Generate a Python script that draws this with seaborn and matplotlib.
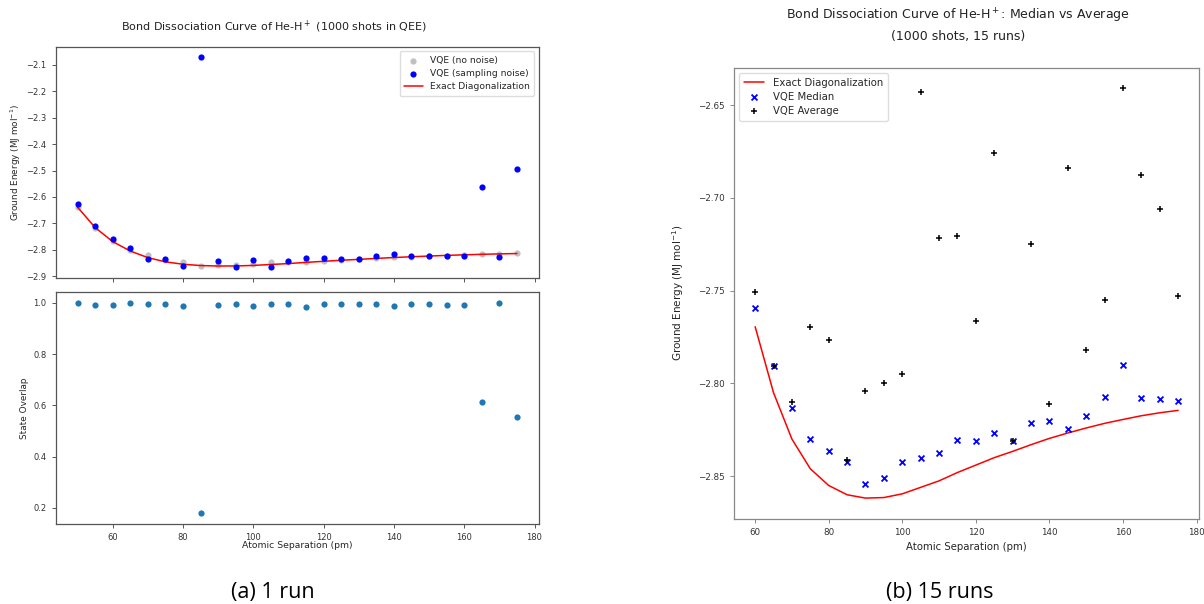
import numpy as np
import pandas as pd
import seaborn as sns
import matplotlib
matplotlib.use("Agg")
import matplotlib.pyplot as plt

# ---------------- data ----------------
# (a) single run, 50..175 pm
sep_a = [50, 55, 60, 65, 70, 75, 80, 85, 90, 95, 100, 105, 110, 115, 120,
         125, 130, 135, 140, 145, 150, 155, 160, 165, 170, 175]
exact_a = [-2.639, -2.716, -2.7694, -2.805, -2.830, -2.846, -2.855, -2.860,
           -2.8618, -2.8615, -2.8595, -2.856, -2.8525, -2.848, -2.844, -2.840,
           -2.8366, -2.833, -2.8296, -2.8267, -2.824, -2.8215, -2.8194,
           -2.8174, -2.8158, -2.8145]
vqe_clean = [-2.637, -2.719, -2.766, -2.801, -2.821, -2.838, -2.846, -2.861,
             -2.858, -2.857, -2.853, -2.848, -2.846, -2.848, -2.843, -2.840,
             -2.836, -2.831, -2.828, -2.826, -2.823, -2.822, -2.820, -2.818,
             -2.816, -2.814]
vqe_noisy = [-2.625, -2.709, -2.758, -2.794, -2.835, -2.837, -2.861, -2.071,
             -2.841, -2.867, -2.839, -2.867, -2.843, -2.832, -2.832, -2.835,
             -2.835, -2.825, -2.818, -2.822, -2.822, -2.824, -2.822, -2.563,
             -2.828, -2.496]
overlap = [1.000, 0.992, 0.992, 1.000, 0.996, 0.996, 0.988, 0.179, 0.992,
           0.996, 0.988, 0.996, 0.996, 0.984, 0.996, 0.996, 0.996, 0.996,
           0.988, 0.996, 0.996, 0.992, 0.992, 0.614, 1.000, 0.553]

# (b) 15 runs, 60..175 pm
sep_b = sep_a[2:]
exact_b = exact_a[2:]
vqe_median = [-2.7593, -2.7905, -2.8133, -2.8297, -2.8364, -2.8425, -2.8541,
              -2.8509, -2.8425, -2.8403, -2.8375, -2.8303, -2.8308, -2.8269,
              -2.8308, -2.8213, -2.8201, -2.8246, -2.8174, -2.8074, -2.7900,
              -2.8079, -2.8084, -2.8095]
vqe_average = [-2.7505, -2.7905, -2.8102, -2.7695, -2.7763, -2.8410, -2.8043,
               -2.7997, -2.7948, -2.6430, -2.7213, -2.7207, -2.7661, -2.6760,
               -2.8308, -2.7249, -2.8109, -2.6838, -2.7819, -2.7550, -2.6408,
               -2.6877, -2.7057, -2.7527]

energy_label = r"Ground Energy (MJ mol$^{-1}$)"
sep_label = "Atomic Separation (pm)"

# ---------------- style ----------------
sns.set_theme(style="ticks")
plt.rcParams["font.family"] = ["DejaVu Sans"]
plt.rcParams.update({
    "xtick.major.size": 3, "ytick.major.size": 3,
    "xtick.major.width": 0.7, "ytick.major.width": 0.7,
    "axes.linewidth": 0.9,
})

W, H = 1204, 604
fig = plt.figure(figsize=(W / 100, H / 100), dpi=100)


def px_axes(x0, y0, x1, y1):
    return fig.add_axes([x0 / W, 1 - y1 / H, (x1 - x0) / W, (y1 - y0) / H])


def style_axes(ax, color, tick_fs):
    for sp in ax.spines.values():
        sp.set_color(color)
        sp.set_visible(True)
    ax.tick_params(colors="#333333", labelsize=tick_fs, color=color)


ax_top = px_axes(55.6, 46.8, 538.9, 277.9)
ax_bot = px_axes(55.6, 292.2, 538.9, 523.9)
ax_r = px_axes(734.0, 67.7, 1199.3, 518.6)

# ---- (a) top: energies ----
df_a = pd.DataFrame({"sep": sep_a, "exact": exact_a, "clean": vqe_clean,
                     "noisy": vqe_noisy, "overlap": overlap})
sns.scatterplot(data=df_a, x="sep", y="clean", ax=ax_top, color="#c0c0c0",
                s=20, linewidth=0, label="VQE (no noise)", zorder=2)
sns.lineplot(data=df_a, x="sep", y="exact", ax=ax_top, color="red",
             linewidth=1.1, label="Exact Diagonalization", zorder=3)
sns.scatterplot(data=df_a, x="sep", y="noisy", ax=ax_top, color="blue",
                s=20, linewidth=0, label="VQE (sampling noise)", zorder=4)
h, l = ax_top.get_legend_handles_labels()
order = ["VQE (no noise)", "VQE (sampling noise)", "Exact Diagonalization"]
hd = dict(zip(l, h))
ax_top.legend([hd[k] for k in order], order, loc="upper right",
              fontsize=6.6, frameon=True, handlelength=2.0, borderpad=0.5,
              labelspacing=0.45, framealpha=1, edgecolor="#dddddd")
ax_top.set_yticks([-2.1, -2.2, -2.3, -2.4, -2.5, -2.6, -2.7, -2.8, -2.9])
ax_top.set_xticks([60, 80, 100, 120, 140, 160, 180])
ax_top.tick_params(axis="x", labelbottom=False)
ax_top.set_xlabel("")
ax_top.set_ylabel(energy_label, fontsize=6.4)
ax_top.yaxis.set_label_coords(-0.068, 0.5)
style_axes(ax_top, "#555555", 6.0)

# ---- (a) bottom: state overlap ----
sns.scatterplot(data=df_a, x="sep", y="overlap", ax=ax_bot, color="#1f77b4",
                s=20, linewidth=0)
ax_bot.set_yticks([0.2, 0.4, 0.6, 0.8, 1.0])
ax_bot.set_xticks([60, 80, 100, 120, 140, 160, 180])
ax_bot.set_xlabel(sep_label, fontsize=6.7)
ax_bot.set_ylabel("State Overlap", fontsize=6.4)
ax_bot.yaxis.set_label_coords(-0.055, 0.5)
ax_bot.xaxis.set_label_coords(0.5, -0.0738)
ax_bot.set_xlim(ax_top.get_xlim())
style_axes(ax_bot, "#555555", 6.0)

fig.text(274 / W, 1 - 26.7 / H,
         "Bond Dissociation Curve of He-H$^+$ (1000 shots in QEE)",
         ha="center", va="center", fontsize=8.0, color="#222222")

# ---- (b) median vs average ----
df_b = pd.DataFrame({"sep": sep_b, "exact": exact_b, "median": vqe_median,
                     "average": vqe_average})
sns.lineplot(data=df_b, x="sep", y="exact", ax=ax_r, color="red",
             linewidth=1.1, label="Exact Diagonalization", zorder=2)
sns.scatterplot(data=df_b, x="sep", y="median", ax=ax_r, color="blue",
                marker="x", s=18, linewidth=1.3, label="VQE Median", zorder=3)
sns.scatterplot(data=df_b, x="sep", y="average", ax=ax_r, color="black",
                marker="+", s=20, linewidth=1.1, label="VQE Average", zorder=4)
ax_r.legend(loc="upper left", fontsize=7.3, frameon=True, handlelength=2.0,
            borderpad=0.5, labelspacing=0.4, framealpha=1,
            edgecolor="#dddddd")
ax_r.set_yticks([-2.65, -2.70, -2.75, -2.80, -2.85])
ax_r.set_yticklabels(["−2.65", "−2.70", "−2.75", "−2.80", "−2.85"])
ax_r.set_xticks([60, 80, 100, 120, 140, 160, 180])
ax_r.set_xlabel(sep_label, fontsize=7.3)
ax_r.set_ylabel(energy_label, fontsize=7.5)
ax_r.yaxis.set_label_coords(-0.1032, 0.5)
ax_r.xaxis.set_label_coords(0.5, -0.0508)
style_axes(ax_r, "#888888", 6.3)

fig.text(958 / W, 1 - 25 / H,
         "Bond Dissociation Curve of He-H$^+$: Median vs Average\n"
         "(1000 shots, 15 runs)",
         ha="center", va="center", fontsize=9.0, color="#222222",
         linespacing=1.45, multialignment="center")

# ---- sub-captions ----
cap_font = dict(family=["Open Sans", "DejaVu Sans"], fontsize=15.5,
                color="black", va="baseline", ha="center")
fig.text(273.3 / W, 1 - 598.3 / H, "(a) 1 run", **cap_font)
fig.text(940 / W, 1 - 598.3 / H, "(b) 15 runs", **cap_font)

fig.savefig("out.png", dpi=100, facecolor="white")
